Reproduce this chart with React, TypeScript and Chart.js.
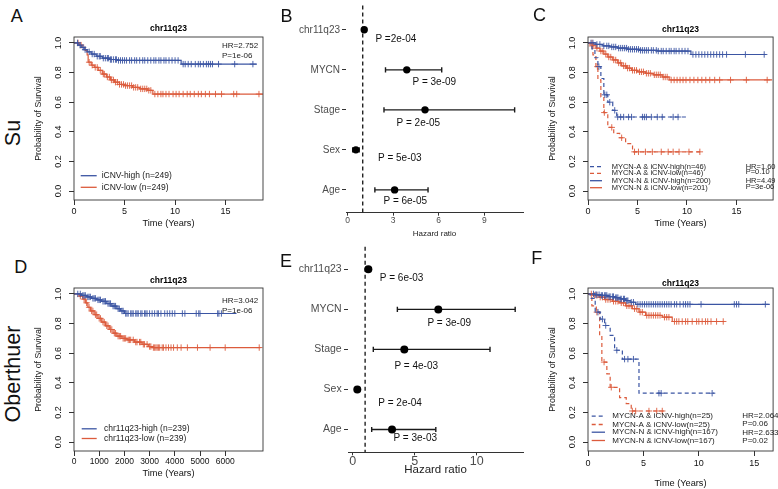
import React, { useEffect, useRef } from 'react';
import { Chart, registerables } from 'chart.js';
Chart.register(...registerables);

const FONT = "'Liberation Sans', Arial, Helvetica, sans-serif";
const BLUE = '#3b55a3';
const RED = '#dc5b3c';

// ---------- Panel A: Su, iCNV high / low (years) ----------
const aHighTimes = [0, 0.4, 0.7, 1.0, 1.3, 1.7, 2.2, 2.8, 3.5, 4.3, 10.6, 18.1];
const aHighSurv = [1, 0.985, 0.97, 0.955, 0.94, 0.925, 0.91, 0.897, 0.888, 0.882, 0.857, 0.857];
const aHighCensor = [0.35, 0.6, 0.9, 1.1, 1.5, 1.8, 2.0, 2.3, 2.5, 2.6, 2.9, 3.1, 3.3, 3.4, 3.6, 3.7, 3.9, 4.1, 4.2, 4.4, 4.6, 4.8, 5.0, 5.2, 5.5, 5.7, 6.0, 6.2, 6.5, 6.8, 7.0, 7.3, 7.6, 7.9, 8.1, 8.4, 8.6, 8.9, 9.1, 9.4, 9.7, 10.0, 10.3, 10.8, 11.0, 11.3, 11.6, 12.0, 12.3, 12.5, 12.8, 13.1, 13.3, 13.5, 13.7, 14.3, 15.9, 17.7];
const aLowTimes = [0, 0.5, 0.8, 1.1, 1.3, 1.4, 1.7, 2.0, 2.4, 2.8, 3.2, 3.6, 4.0, 4.5, 5.0, 5.8, 6.5, 7.3, 7.8, 18.7];
const aLowSurv = [1, 0.985, 0.97, 0.95, 0.92, 0.87, 0.85, 0.835, 0.815, 0.79, 0.77, 0.75, 0.735, 0.72, 0.712, 0.7, 0.69, 0.68, 0.655, 0.655];
const aLowCensor = [0.4, 0.7, 1.5, 1.8, 2.1, 2.3, 2.6, 2.9, 3.0, 3.3, 3.5, 3.7, 3.9, 4.1, 4.3, 4.5, 4.7, 4.9, 5.1, 5.3, 5.5, 5.7, 5.9, 6.1, 6.3, 6.6, 6.8, 7.0, 7.2, 7.4, 7.6, 8.0, 8.3, 8.6, 8.8, 9.1, 9.4, 9.8, 10.1, 10.4, 10.8, 11.2, 11.5, 11.9, 12.3, 12.6, 13.0, 13.4, 14.0, 14.6, 15.8, 16.1, 18.3];
const aLegend = ['iCNV-high (n=249)', 'iCNV-low (n=249)'];
const aStats = ['HR=2.752', 'P=1e-06'];

// ---------- Panel B: Su, multivariate Cox ----------
const bFactors = ['chr11q23', 'MYCN', 'Stage', 'Sex', 'Age'];
const bHR = [1.1, 3.9, 5.1, 0.55, 3.1];
const bLow = [1.05, 2.5, 2.4, 0.34, 1.8];
const bHigh = [1.16, 6.2, 11.0, 0.77, 5.3];
const bP = ['P =2e-04', 'P = 3e-09', 'P = 2e-05', 'P = 5e-03', 'P = 6e-05'];
const bTicks = [0, 3, 6, 9];

// ---------- Panel C: Su, MYCN x iCNV (years) ----------
const cAHTimes = [0, 0.4, 0.7, 1.0, 1.3, 1.6, 2.0, 2.5, 2.9, 10.0];
const cAHSurv = [1, 0.96, 0.9, 0.84, 0.76, 0.65, 0.6, 0.545, 0.5, 0.5];
const cAHCensor = [1.1, 1.7, 1.9, 2.2, 2.7, 3.0, 3.3, 3.6, 4.1, 4.4, 5.5, 5.7, 5.9, 6.4, 7.0, 7.5, 8.6, 9.1];
const cALTimes = [0, 0.2, 0.5, 0.8, 1.0, 1.3, 1.6, 2.0, 2.6, 3.2, 3.8, 4.5, 11.4];
const cALSurv = [1, 0.98, 0.92, 0.84, 0.75, 0.635, 0.53, 0.43, 0.39, 0.36, 0.32, 0.265, 0.265];
const cALCensor = [0.4, 0.95, 1.65, 2.4, 3.4, 4.7, 5.1, 5.8, 6.5, 7.4, 8.1, 8.6, 9.2, 10.2, 11.3];
const cNHTimes = [0, 0.8, 1.5, 2.2, 3.0, 4.0, 5.2, 7.0, 10.4, 18.0];
const cNHSurv = [1, 0.99, 0.98, 0.973, 0.965, 0.957, 0.95, 0.945, 0.922, 0.922];
const cNHCensor = [0.3, 0.5, 0.9, 1.2, 1.6, 1.9, 2.1, 2.4, 2.6, 2.8, 3.1, 3.3, 3.5, 3.7, 3.9, 4.1, 4.3, 4.5, 4.7, 4.9, 5.1, 5.3, 5.5, 5.7, 5.9, 6.1, 6.4, 6.6, 6.9, 7.1, 7.4, 7.6, 7.9, 8.2, 8.4, 8.7, 8.9, 9.2, 9.5, 9.8, 10.1, 10.6, 10.9, 11.2, 11.5, 11.8, 12.1, 12.4, 12.7, 13.0, 13.3, 13.6, 14.0, 15.9, 17.8];
const cNLTimes = [0, 0.5, 0.8, 1.2, 1.6, 2.0, 2.5, 3.0, 3.4, 3.9, 4.4, 5.0, 5.8, 6.6, 7.5, 8.2, 18.6];
const cNLSurv = [1, 0.985, 0.965, 0.945, 0.925, 0.905, 0.885, 0.865, 0.845, 0.83, 0.815, 0.805, 0.795, 0.785, 0.77, 0.75, 0.75];
const cNLCensor = [0.4, 0.9, 1.3, 1.5, 1.8, 2.1, 2.3, 2.6, 2.8, 3.1, 3.3, 3.6, 3.8, 4.0, 4.2, 4.5, 4.7, 4.9, 5.2, 5.4, 5.6, 5.9, 6.1, 6.3, 6.7, 6.9, 7.1, 7.3, 7.6, 7.8, 8.0, 8.4, 8.7, 9.0, 9.3, 9.6, 9.9, 10.3, 10.7, 11.1, 11.5, 11.9, 12.3, 12.8, 13.3, 14.4, 16.0, 18.1];
const cLegend = ['MYCN-A & iCNV-high(n=46)', 'MYCN-A & iCNV-low(n=46)', 'MYCN-N & iCNV-high(n=200)', 'MYCN-N & iCNV-low(n=201)'];
const cStats = ['HR=1.60', 'P=0.10', 'HR=4.49', 'P=3e-06'];

// ---------- Panel D: Oberthuer, chr11q23 high / low (days) ----------
const dHighTimes = [0, 300, 500, 700, 900, 1100, 1300, 1500, 1700, 1850, 2000, 6450];
const dHighSurv = [1, 0.99, 0.98, 0.97, 0.96, 0.95, 0.935, 0.918, 0.9, 0.885, 0.868, 0.868];
const dHighCensor = [150, 250, 350, 400, 450, 550, 600, 650, 750, 800, 850, 950, 1000, 1050, 1150, 1200, 1250, 1350, 1400, 1450, 1550, 1600, 1650, 1750, 1800, 1900, 1950, 2050, 2100, 2150, 2250, 2300, 2350, 2450, 2500, 2550, 2650, 2700, 2800, 2850, 2900, 3000, 3100, 3200, 3300, 3350, 3450, 3600, 3700, 3800, 3900, 4000, 4300, 4400, 4850, 4950, 5000, 5700, 5750, 5850];
const dLowTimes = [0, 200, 350, 450, 550, 650, 800, 950, 1100, 1250, 1400, 1550, 1700, 1900, 2100, 2400, 2700, 2950, 3100, 7400];
const dLowSurv = [1, 0.985, 0.965, 0.94, 0.91, 0.885, 0.86, 0.835, 0.81, 0.785, 0.76, 0.735, 0.715, 0.7, 0.69, 0.675, 0.66, 0.645, 0.638, 0.638];
const dLowCensor = [250, 400, 500, 600, 700, 750, 850, 900, 1000, 1050, 1150, 1200, 1300, 1350, 1450, 1500, 1600, 1650, 1750, 1800, 1850, 1950, 2000, 2050, 2150, 2200, 2250, 2350, 2450, 2500, 2600, 2650, 2750, 2800, 2900, 3000, 3050, 3150, 3200, 3250, 3300, 3350, 3400, 3500, 3550, 3650, 3750, 3850, 3950, 4100, 4250, 4500, 4900, 5400, 6000, 7350];
const dLegend = ['chr11q23-high (n=239)', 'chr11q23-low (n=239)'];
const dStats = ['HR=3.042', 'P=1e-06'];

// ---------- Panel E: Oberthuer, multivariate Cox ----------
const eFactors = ['chr11q23', 'MYCN', 'Stage', 'Sex', 'Age'];
const eHR = [1.26, 6.9, 4.16, 0.37, 3.17];
const eLow = [1.1, 3.6, 1.66, 0.25, 1.53];
const eHigh = [1.42, 13.1, 11.07, 0.52, 6.7];
const eP = ['P = 6e-03', 'P = 3e-09', 'P = 4e-03', 'P = 2e-04', 'P = 3e-03'];
const eTicks = [0, 5, 10];

// ---------- Panel F: Oberthuer, MYCN x iCNV (years) ----------
const fAHTimes = [0, 0.2, 0.65, 1.1, 1.5, 2.0, 2.4, 3.1, 4.6, 11.4];
const fAHSurv = [1, 0.97, 0.877, 0.83, 0.787, 0.72, 0.62, 0.56, 0.33, 0.33];
const fAHCensor = [0.9, 1.3, 1.6, 2.6, 3.3, 3.6, 4.1, 6.4, 6.6, 11.2];
const fALTimes = [0, 0.35, 0.75, 1.05, 1.25, 1.7, 2.0, 2.85, 3.45, 3.9, 7.0];
const fALSurv = [1, 0.92, 0.877, 0.72, 0.54, 0.46, 0.37, 0.3, 0.26, 0.21, 0.21];
const fALCensor = [0.8, 1.45, 2.1, 4.0, 4.3, 5.5, 6.2, 6.7];
const fNHTimes = [0, 0.6, 1.1, 1.8, 2.4, 2.9, 3.4, 3.8, 4.3, 16.4];
const fNHSurv = [1, 0.995, 0.99, 0.982, 0.975, 0.966, 0.955, 0.944, 0.93, 0.93];
const fNHCensor = [0.5, 0.7, 0.8, 1.0, 1.2, 1.3, 1.5, 1.6, 1.7, 1.9, 2.0, 2.2, 2.3, 2.5, 2.6, 2.7, 2.9, 3.0, 3.2, 3.3, 3.5, 3.6, 3.9, 4.1, 4.5, 4.7, 4.9, 5.1, 5.3, 5.5, 5.7, 5.9, 6.1, 6.3, 6.5, 6.7, 6.9, 7.1, 7.3, 7.5, 7.8, 8.0, 8.3, 8.6, 8.8, 9.0, 9.2, 10.2, 13.2, 13.4, 13.6, 16.0];
const fNLTimes = [0, 0.5, 1.0, 1.5, 2.2, 2.8, 3.4, 4.0, 4.6, 5.2, 6.7, 7.6, 12.3];
const fNLSurv = [1, 0.99, 0.978, 0.962, 0.95, 0.94, 0.92, 0.9, 0.877, 0.855, 0.843, 0.814, 0.814];
const fNLCensor = [0.3, 0.6, 0.8, 1.1, 1.3, 1.6, 1.8, 2.0, 2.3, 2.5, 2.7, 3.0, 3.2, 3.5, 3.7, 3.9, 4.2, 4.4, 4.7, 4.9, 5.3, 5.5, 5.7, 5.9, 6.1, 6.3, 6.5, 6.9, 7.1, 7.3, 7.8, 8.0, 8.2, 8.5, 8.8, 9.0, 9.4, 9.8, 10.0, 10.3, 10.6, 10.8, 11.1, 11.6, 12.2];
const fLegend = ['MYCN-A & iCNV-high(n=25)', 'MYCN-A & iCNV-low(n=25)', 'MYCN-N & iCNV-high(n=167)', 'MYCN-N & iCNV-low(n=167)'];
const fStats = ['HR=2.064', 'P=0.06', 'HR=2.633', 'P=0.02'];

const yearTicks = [0, 5, 10, 15];
const dayTicks = [0, 1000, 2000, 3000, 4000, 5000, 6000];
const survTicks = [0, 0.2, 0.4, 0.6, 0.8, 1.0];

function survAt(times: number[], surv: number[], t: number) {
  let s = surv[0];
  for (let i = 0; i < times.length; i++) if (times[i] <= t) s = surv[i];
  return s;
}

type Curve = { times: number[]; surv: number[]; censor: number[]; color: string; dash: number[] };
type KMSpec = {
  boxL: number; boxT: number; boxW: number; boxH: number; padR: number; axisH: number;
  xLabelPad: number; xTitlePadB: number; xMax: number; xTicks: number[]; xFont: number;
  curves: Curve[]; titleY: number;
  legend: string[]; legendY: number[]; legendX: number[]; legendFont: number;
  stats: string[]; statsX: number; statsY: number[]; statsFont: number;
};

const Y_W = 46;
const TOP_PAD = 17;

function kmGeom(s: KMSpec) {
  const left = s.boxL - Y_W;
  const top = s.boxT - TOP_PAD;
  return { left, top, w: s.boxW + Y_W + s.padR, h: TOP_PAD + s.boxH + s.axisH };
}

function kmConfig(s: KMSpec): any {
  const g = kmGeom(s);
  const datasets: any[] = [];
  s.curves.forEach((c) => {
    datasets.push({
      data: c.times.map((t, i) => ({ x: t, y: c.surv[i] })),
      showLine: true, stepped: 'before', borderColor: c.color, borderWidth: 1.2,
      borderDash: c.dash, pointRadius: 0, fill: false,
    });
    datasets.push({
      data: c.censor.map((t) => ({ x: t, y: survAt(c.times, c.surv, t) })),
      showLine: false, pointStyle: 'cross', pointRadius: 3.2,
      borderColor: c.color, pointBorderColor: c.color, pointBorderWidth: 0.9, borderWidth: 0.9,
    });
  });
  const tickFont = { family: FONT, size: 9 };
  const deco = {
    id: 'kmDeco',
    afterDraw(chart: any) {
      const { ctx, chartArea: a } = chart;
      ctx.save();
      ctx.setLineDash([]);
      ctx.strokeStyle = '#333';
      ctx.lineWidth = 0.9;
      ctx.strokeRect(a.left, a.top, a.right - a.left, a.bottom - a.top);
      ctx.fillStyle = '#000';
      ctx.font = `bold 8.5px ${FONT}`;
      ctx.textAlign = 'center';
      ctx.textBaseline = 'middle';
      ctx.fillText('chr11q23', (a.left + a.right) / 2, s.titleY - g.top);
      ctx.font = `${s.legendFont}px ${FONT}`;
      ctx.textAlign = 'left';
      s.legend.forEach((lab, i) => {
        const c = s.curves[i];
        const y = s.legendY[i] - g.top;
        ctx.strokeStyle = c.color;
        ctx.lineWidth = 1.3;
        ctx.setLineDash(c.dash);
        ctx.beginPath();
        ctx.moveTo(s.legendX[0] - g.left, y);
        ctx.lineTo(s.legendX[1] - g.left, y);
        ctx.stroke();
        ctx.setLineDash([]);
        ctx.fillStyle = '#222';
        ctx.fillText(lab, s.legendX[2] - g.left, y);
      });
      ctx.font = `${s.statsFont}px ${FONT}`;
      s.stats.forEach((t, i) => ctx.fillText(t, s.statsX - g.left, s.statsY[i] - g.top));
      ctx.restore();
    },
  };
  return {
    type: 'scatter',
    data: { datasets },
    plugins: [deco],
    options: {
      animation: false, responsive: false, events: [],
      layout: { padding: { left: 0, top: TOP_PAD, right: s.padR, bottom: 0 } },
      plugins: { legend: { display: false }, tooltip: { enabled: false }, title: { display: false } },
      scales: {
        x: {
          type: 'linear', min: 0, max: s.xMax,
          afterBuildTicks: (sc: any) => { sc.ticks = s.xTicks.map((v) => ({ value: v })); },
          afterFit: (sc: any) => { sc.height = s.axisH; sc.paddingLeft = 0; sc.paddingRight = 0; },
          ticks: { font: { family: FONT, size: s.xFont }, color: '#111', padding: s.xLabelPad, maxRotation: 0, autoSkip: false, callback: (v: number) => String(v) },
          grid: { display: true, drawOnChartArea: false, drawTicks: true, tickLength: 5, color: '#333' },
          border: { display: false },
          title: { display: true, text: 'Time (Years)', color: '#111', font: { family: FONT, size: 9.2 }, padding: { top: 0, bottom: s.xTitlePadB } },
        },
        y: {
          type: 'linear', min: -0.06, max: 1.04,
          afterBuildTicks: (sc: any) => { sc.ticks = survTicks.map((v) => ({ value: v })); },
          afterFit: (sc: any) => { sc.width = Y_W; sc.paddingTop = 0; sc.paddingBottom = 0; },
          ticks: { font: tickFont, color: '#111', minRotation: 90, maxRotation: 90, crossAlign: 'center', padding: 3.75, callback: (v: number) => v.toFixed(1) },
          grid: { display: true, drawOnChartArea: false, drawTicks: true, tickLength: 5, color: '#333' },
          border: { display: false },
          title: { display: true, text: 'Probability of Survival', color: '#111', font: { family: FONT, size: 8.8 }, padding: { top: 5, bottom: 0 } },
        },
      },
    },
  };
}

type ForestSpec = {
  left: number; top: number; w: number; h: number;
  factors: string[]; hr: number[]; lo: number[]; hi: number[]; pTxt: string[]; pPos: number[][];
  xMin: number; xMax: number; yMin: number; yMax: number; xTicks: number[];
  padTop: number; padR: number; yW: number; xH: number;
  yFont: number; yPad: number; xFont: number; xPad: number; xTitleFont: number; xTitlePadB: number;
  dotR: number; pFont: number;
};

function forestConfig(s: ForestSpec): any {
  const datasets: any[] = s.factors.map((_, i) => ({
    data: [{ x: s.lo[i], y: i }, { x: s.hi[i], y: i }],
    showLine: true, borderColor: '#1a1a1a', borderWidth: 1.4,
    pointStyle: 'line', pointRotation: 90, pointRadius: 2.6,
    pointBorderColor: '#1a1a1a', pointBorderWidth: 1.4,
  }));
  datasets.unshift({
    data: s.factors.map((_, i) => ({ x: s.hr[i], y: i })),
    showLine: false, pointStyle: 'circle', pointRadius: s.dotR,
    backgroundColor: '#000', pointBackgroundColor: '#000', borderColor: '#000', pointBorderWidth: 0,
  });
  const deco = {
    id: 'forestDeco',
    beforeDatasetsDraw(chart: any) {
      const { ctx, chartArea: a, scales } = chart;
      const x = scales.x.getPixelForValue(1);
      ctx.save();
      ctx.strokeStyle = '#222';
      ctx.lineWidth = 1.4;
      ctx.setLineDash([4, 3]);
      ctx.beginPath();
      ctx.moveTo(x, a.top);
      ctx.lineTo(x, a.bottom);
      ctx.stroke();
      ctx.restore();
    },
    afterDraw(chart: any) {
      const { ctx, scales } = chart;
      ctx.save();
      ctx.fillStyle = '#111';
      ctx.font = `${s.pFont}px ${FONT}`;
      ctx.textAlign = 'center';
      ctx.textBaseline = 'middle';
      s.pTxt.forEach((t, i) => {
        ctx.fillText(t, scales.x.getPixelForValue(s.pPos[i][0]), scales.y.getPixelForValue(s.pPos[i][1]));
      });
      ctx.restore();
    },
  };
  return {
    type: 'scatter',
    data: { datasets },
    plugins: [deco],
    options: {
      animation: false, responsive: false, events: [],
      layout: { padding: { left: 0, top: s.padTop, right: s.padR, bottom: 0 } },
      plugins: { legend: { display: false }, tooltip: { enabled: false } },
      scales: {
        x: {
          type: 'linear', min: s.xMin, max: s.xMax,
          afterBuildTicks: (sc: any) => { sc.ticks = s.xTicks.map((v) => ({ value: v })); },
          afterFit: (sc: any) => { sc.height = s.xH; sc.paddingLeft = 0; sc.paddingRight = 0; },
          ticks: { font: { family: FONT, size: s.xFont }, color: '#4d4d4d', padding: s.xPad, maxRotation: 0, autoSkip: false },
          grid: { display: true, drawOnChartArea: false, drawTicks: true, tickLength: 3, color: '#333' },
          border: { display: true, color: '#333', width: 1 },
          title: { display: true, text: 'Hazard ratio', color: '#222', font: { family: FONT, size: s.xTitleFont }, padding: { top: 0, bottom: s.xTitlePadB } },
        },
        y: {
          type: 'linear', reverse: true, min: s.yMin, max: s.yMax,
          afterBuildTicks: (sc: any) => { sc.ticks = s.factors.map((_, i) => ({ value: i })); },
          afterFit: (sc: any) => { sc.width = s.yW; sc.paddingTop = 0; sc.paddingBottom = 0; },
          ticks: { font: { family: FONT, size: s.yFont }, color: '#4d4d4d', padding: s.yPad, autoSkip: false, callback: (v: number) => s.factors[Math.round(v)] },
          grid: { display: true, drawOnChartArea: false, drawTicks: true, tickLength: 4, color: '#333' },
          border: { display: false },
        },
      },
    },
  };
}

const specA: KMSpec = {
  boxL: 74, boxT: 37, boxW: 189, boxH: 163, padR: 5, axisH: 35, xLabelPad: 1.6, xTitlePadB: 6.5, xFont: 9,
  xMax: 18.7, xTicks: yearTicks, titleY: 29,
  curves: [
    { times: aHighTimes, surv: aHighSurv, censor: aHighCensor, color: BLUE, dash: [] },
    { times: aLowTimes, surv: aLowSurv, censor: aLowCensor, color: RED, dash: [] },
  ],
  legend: aLegend, legendY: [175.7, 187.3], legendX: [80.7, 96.7, 101.7], legendFont: 8.5,
  stats: aStats, statsX: 222, statsY: [46, 56], statsFont: 8,
};
const specC: KMSpec = {
  boxL: 588, boxT: 37, boxW: 189, boxH: 163, padR: 1, axisH: 35, xLabelPad: 1.6, xTitlePadB: 6, xFont: 9,
  xMax: 18.7, xTicks: yearTicks, titleY: 29.3,
  curves: [
    { times: cAHTimes, surv: cAHSurv, censor: cAHCensor, color: BLUE, dash: [4, 3] },
    { times: cALTimes, surv: cALSurv, censor: cALCensor, color: RED, dash: [4, 3] },
    { times: cNHTimes, surv: cNHSurv, censor: cNHCensor, color: BLUE, dash: [] },
    { times: cNLTimes, surv: cNLSurv, censor: cNLCensor, color: RED, dash: [] },
  ],
  legend: cLegend, legendY: [166.7, 173.3, 180.7, 187.7], legendX: [590, 602, 611.7], legendFont: 7.5,
  stats: cStats, statsX: 745.7, statsY: [166.7, 172.3, 181, 186.7], statsFont: 7.5,
};
const specD: KMSpec = {
  boxL: 74, boxT: 287.5, boxW: 189, boxH: 163, padR: 5, axisH: 35, xLabelPad: 1.0, xTitlePadB: 6.8, xFont: 8.5,
  xMax: 7500, xTicks: dayTicks, titleY: 280,
  curves: [
    { times: dHighTimes, surv: dHighSurv, censor: dHighCensor, color: BLUE, dash: [] },
    { times: dLowTimes, surv: dLowSurv, censor: dLowCensor, color: RED, dash: [] },
  ],
  legend: dLegend, legendY: [428.3, 438], legendX: [81.7, 96.7, 104], legendFont: 8.5,
  stats: dStats, statsX: 222, statsY: [300.5, 309.8], statsFont: 8,
};
const specF: KMSpec = {
  boxL: 588, boxT: 287.5, boxW: 189, boxH: 163, padR: 1, axisH: 38, xLabelPad: 1.8, xTitlePadB: 0, xFont: 9,
  xMax: 16.7, xTicks: yearTicks, titleY: 283.3,
  curves: [
    { times: fAHTimes, surv: fAHSurv, censor: fAHCensor, color: BLUE, dash: [4, 3] },
    { times: fALTimes, surv: fALSurv, censor: fALCensor, color: RED, dash: [4, 3] },
    { times: fNHTimes, surv: fNHSurv, censor: fNHCensor, color: BLUE, dash: [] },
    { times: fNLTimes, surv: fNLSurv, censor: fNLCensor, color: RED, dash: [] },
  ],
  legend: fLegend, legendY: [415.7, 424, 431.7, 440], legendX: [591.7, 605, 612.3], legendFont: 8,
  stats: fStats, statsX: 742.3, statsY: [415.7, 423.3, 432.3, 440], statsFont: 8,
};

const specB: ForestSpec = {
  left: 265, top: 0, w: 265, h: 245,
  factors: bFactors, hr: bHR, lo: bLow, hi: bHigh, pTxt: bP,
  pPos: [[3.18, 0.24], [5.71, 1.32], [4.66, 2.34], [3.44, 3.22], [3.8, 4.28]],
  xMin: -0.1, xMax: 11.55, yMin: -0.61, yMax: 4.57, xTicks: bTicks,
  padTop: 0, padR: 7, yW: 81, xH: 32.3,
  yFont: 10, yPad: 2, xFont: 8.5, xPad: 0, xTitleFont: 8, xTitlePadB: 6,
  dotR: 3.7, pFont: 10,
};
const specE: ForestSpec = {
  left: 265, top: 240, w: 265, h: 249,
  factors: eFactors, hr: eHR, lo: eLow, hi: eHigh, pTxt: eP,
  pPos: [[3.94, 0.226], [7.78, 1.353], [5.12, 2.42], [3.82, 3.34], [5.04, 4.22]],
  xMin: -0.38, xMax: 13.73, yMin: -0.566, yMax: 4.57, xTicks: eTicks,
  padTop: 6.7, padR: 7, yW: 83, xH: 36.7,
  yFont: 10.5, yPad: 2.3, xFont: 12.5, xPad: -1, xTitleFont: 11.5, xTitlePadB: 12.6,
  dotR: 4, pFont: 10,
};

function ChartBox({ left, top, w, h, make }: { left: number; top: number; w: number; h: number; make: () => any }) {
  const ref = useRef<HTMLCanvasElement>(null);
  useEffect(() => {
    const chart = new Chart(ref.current as HTMLCanvasElement, make());
    return () => chart.destroy();
  }, []);
  return (
    <canvas ref={ref} width={w} height={h}
      style={{ position: 'absolute', left, top, width: w, height: h }} />
  );
}

function KM({ spec }: { spec: KMSpec }) {
  const g = kmGeom(spec);
  return <ChartBox left={g.left} top={g.top} w={g.w} h={g.h} make={() => kmConfig(spec)} />;
}

function Forest({ spec }: { spec: ForestSpec }) {
  return <ChartBox left={spec.left} top={spec.top} w={spec.w} h={spec.h} make={() => forestConfig(spec)} />;
}

const letterStyle = (x: number, y: number, size: number, rotate = false): React.CSSProperties => ({
  position: 'absolute', left: x, top: y, transform: `translate(-50%, -50%)${rotate ? ' rotate(-90deg)' : ''}`,
  fontFamily: FONT, fontSize: size, lineHeight: 1, color: '#111', whiteSpace: 'nowrap',
});

export default function App() {
  return (
    <div style={{ position: 'fixed', left: 0, top: 0, width: 778, height: 489, background: '#fff', overflow: 'hidden' }}>
      <KM spec={specA} />
      <Forest spec={specB} />
      <KM spec={specC} />
      <KM spec={specD} />
      <Forest spec={specE} />
      <KM spec={specF} />
      <div style={letterStyle(16.7, 16.3, 18)}>A</div>
      <div style={letterStyle(286.5, 16.3, 18)}>B</div>
      <div style={letterStyle(539.5, 14.5, 18)}>C</div>
      <div style={letterStyle(20.8, 266.7, 18)}>D</div>
      <div style={letterStyle(286, 260.5, 18)}>E</div>
      <div style={letterStyle(536.7, 258.3, 18)}>F</div>
      <div style={letterStyle(14, 133, 21.5, true)}>Su</div>
      <div style={letterStyle(14, 374, 21.5, true)}>Oberthuer</div>
    </div>
  );
}
